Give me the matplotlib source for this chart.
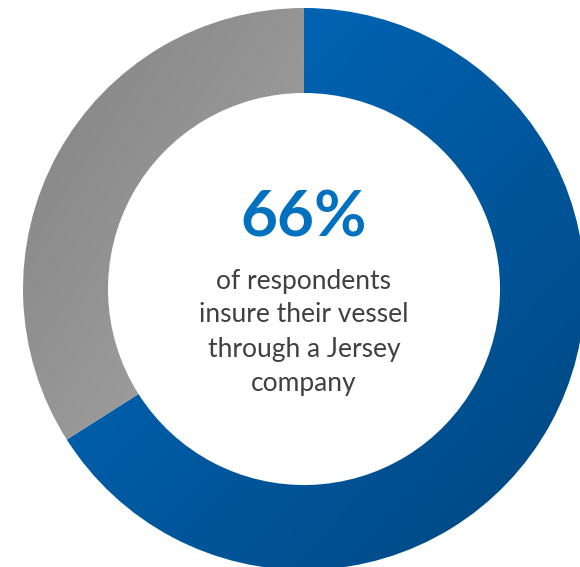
import matplotlib.pyplot as plt
import numpy as np
from matplotlib.colors import LinearSegmentedColormap
from matplotlib.patches import Wedge

# ── data ─────────────────────────────────────────────────────────────────────
labels = ['Jersey company', 'Other']
shares = [66, 34]
headline = '66%'
caption_lines = ['of respondents', 'insure their vessel', 'through a Jersey', 'company']

# gradient end colours per segment (top-left -> bottom-right of its own bbox)
seg_colours = [('#006CC2', '#00467F'), ('#828282', '#A8A8A8')]

W, H = 580, 567
cx, cy = 304, H - 289
R_out, ring = 281, 85

fig = plt.figure(figsize=(W / 100, H / 100), dpi=100)
ax = fig.add_axes([0, 0, 1, 1])
ax.set_xlim(0, W)
ax.set_ylim(0, H)
ax.set_aspect('equal')
ax.axis('off')

# diagonal gradient field, row 0 = top: 0 at top-left, 1 at bottom-right
gx, gy = np.meshgrid(np.linspace(0, 1, 400), np.linspace(0, 1, 400))
field = (gx + gy) / 2

# wedges clockwise from 12 o'clock
start = 90.0
for share, (c0, c1) in zip(shares, seg_colours):
    sweep = 360 * share / sum(shares)
    wedge = Wedge((cx, cy), R_out, start - sweep, start, width=ring,
                  facecolor='none', edgecolor='none')
    ax.add_patch(wedge)
    bb = wedge.get_path().get_extents()
    cmap = LinearSegmentedColormap.from_list('g', [c0, c1])
    img = ax.imshow(field, cmap=cmap, extent=(bb.x0, bb.x1, bb.y0, bb.y1),
                    origin='upper', interpolation='bilinear', zorder=1)
    img.set_clip_path(wedge)
    start -= sweep

# centre text
ax.text(cx, H - 218, headline, ha='center', va='center',
        fontsize=46, fontweight='bold', color='#0070C0', family='Lato')
line_y = [282, 315, 349, 383]
for y, line in zip(line_y, caption_lines):
    ax.text(cx, H - y, line, ha='center', va='center',
            fontsize=19, color='#404040', family='Lato')

fig.savefig('out.png', dpi=100)
